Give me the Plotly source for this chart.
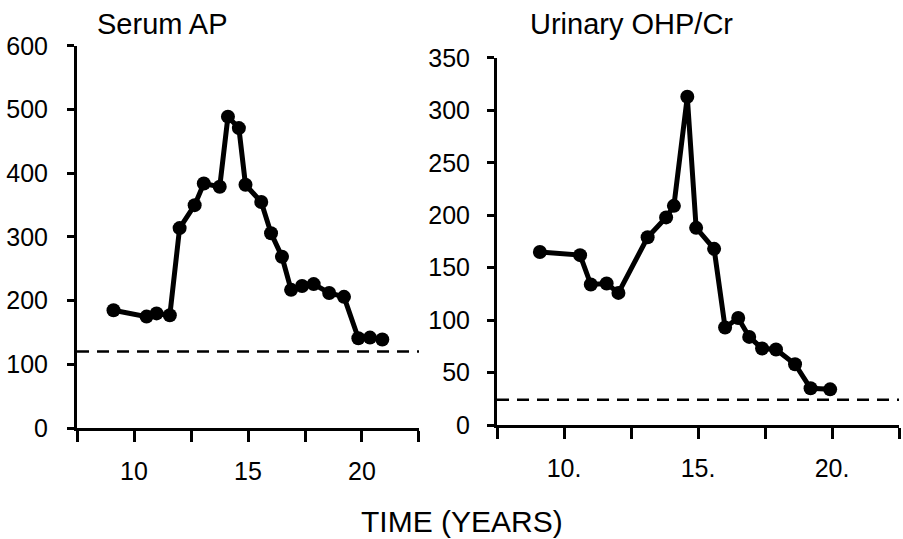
import plotly.graph_objects as go

# Serum AP panel
ap_years = [9.1, 10.55, 10.99, 11.57, 12.0, 12.66, 13.06, 13.76, 14.12, 14.6, 14.89,
            15.58, 16.01, 16.49, 16.89, 17.37, 17.88, 18.56, 19.21, 19.84, 20.35, 20.89]
ap_values = [185, 175, 180, 177, 314, 350, 384, 379, 489, 471, 382,
             355, 306, 269, 217, 223, 226, 212, 206, 141, 142, 139]
ap_normal = 120

# Urinary OHP/Cr panel
ohp_years = [9.1, 10.6, 11.0, 11.59, 12.03, 13.12, 13.81, 14.1, 14.6, 14.93,
             15.6, 16.01, 16.5, 16.91, 17.39, 17.91, 18.62, 19.2, 19.93]
ohp_values = [165, 162, 134, 135, 126, 179, 198, 209, 313, 188,
              168, 93, 102, 84, 73, 72, 58, 35, 34]
ohp_normal = 24

x_tickvals = [7.5, 10, 12.5, 15, 17.5, 20, 22.5]
x_ticktext_left = ["", "10", "", "15", "", "20", ""]
x_ticktext_right = ["", "10.", "", "15.", "", "20.", ""]

FONT = "Liberation Sans, Arial, sans-serif"

fig = go.Figure()
fig.add_trace(go.Scatter(x=ap_years, y=ap_values, mode="lines+markers",
                         line=dict(color="black", width=5),
                         marker=dict(color="black", size=14),
                         xaxis="x", yaxis="y", showlegend=False))
fig.add_trace(go.Scatter(x=ohp_years, y=ohp_values, mode="lines+markers",
                         line=dict(color="black", width=5),
                         marker=dict(color="black", size=14),
                         xaxis="x2", yaxis="y2", showlegend=False))

axis_common = dict(showgrid=False, zeroline=False, showline=True, linecolor="black",
                   linewidth=3, ticks="outside", tickcolor="black", tickwidth=3,
                   automargin=False,
                   tickfont=dict(family=FONT, size=25, color="black"))

fig.update_layout(
    width=903, height=539,
    margin=dict(l=0, r=0, t=0, b=0),
    paper_bgcolor="white", plot_bgcolor="white",
    xaxis=dict(domain=[0.0853, 0.464], range=[7.5, 22.5], tickvals=x_tickvals,
               ticktext=x_ticktext_left, ticklen=11, anchor="y",
               ticklabelstandoff=8, **axis_common),
    yaxis=dict(domain=[0.2059, 0.9147], range=[0, 600], dtick=100, ticklen=7,
               anchor="x", ticklabelstandoff=14, **axis_common),
    xaxis2=dict(domain=[0.5504, 0.9956], range=[7.5, 22.5], tickvals=x_tickvals,
                ticktext=x_ticktext_right, ticklen=11, anchor="y2",
                ticklabelstandoff=8, **axis_common),
    yaxis2=dict(domain=[0.2115, 0.8924], range=[0, 350], dtick=50, ticklen=7,
                anchor="x2", ticklabelstandoff=12, **axis_common),
    shapes=[
        dict(type="line", xref="x domain", yref="y", x0=0, x1=1, y0=ap_normal, y1=ap_normal,
             line=dict(color="black", width=2.5, dash="12px,8px")),
        dict(type="line", xref="x2 domain", yref="y2", x0=0, x1=1, y0=ohp_normal, y1=ohp_normal,
             line=dict(color="black", width=2.5, dash="12px,8px")),
    ],
    annotations=[
        dict(text="Serum AP", xref="paper", yref="paper", x=95/903, y=1 - 24/539,
             xanchor="left", yanchor="middle", showarrow=False,
             font=dict(family=FONT, size=29, color="black")),
        dict(text="Urinary OHP/Cr", xref="paper", yref="paper", x=528/903, y=1 - 24/539,
             xanchor="left", yanchor="middle", showarrow=False,
             font=dict(family=FONT, size=29, color="black")),
        dict(text="TIME (YEARS)", xref="paper", yref="paper", x=462/903, y=1 - 521/539,
             xanchor="center", yanchor="middle", showarrow=False,
             font=dict(family=FONT, size=30, color="black")),
    ],
)

fig.write_html("out.html")
